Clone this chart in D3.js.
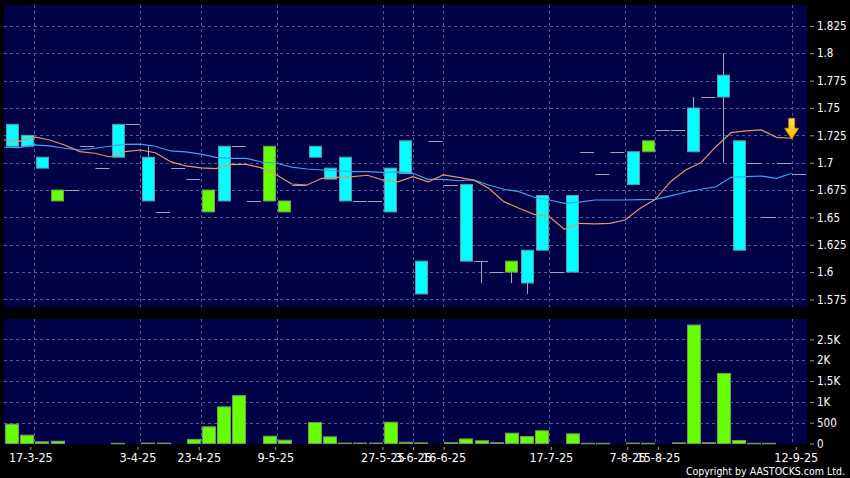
<!DOCTYPE html>
<html><head><meta charset="utf-8">
<script src="https://cdn.jsdelivr.net/npm/d3@7"></script>
<style>
html,body{margin:0;padding:0;background:#000;}
svg{display:block;}
text{font-family:"DejaVu Sans Condensed","DejaVu Sans",sans-serif;fill:#fff;}
</style></head><body>
<svg id="chart" width="850" height="478"></svg>
<script>
// ---- data (53 trading slots) ----
const openP  = [1.735,1.725,1.705,1.665,1.675,1.715,1.695,1.735,1.735,1.705,1.655,1.695,1.685,1.655,1.715,1.715,1.665,1.665,1.655,1.68,
                1.715,1.695,1.705,1.665,1.665,1.695,1.72,1.61,1.72,1.68,1.68,1.61,1.60,1.60,1.62,1.67,1.60,1.67,1.71,1.69,
                1.71,1.71,1.71,1.73,1.73,1.75,1.76,1.78,1.72,1.70,1.65,1.70,1.69];
const highP  = [1.735,1.725,1.705,1.675,1.675,1.715,1.695,1.735,1.735,1.715,1.655,1.695,1.685,1.675,1.715,1.715,1.665,1.715,1.665,1.68,
                1.715,1.695,1.705,1.665,1.665,1.695,1.72,1.61,1.72,1.68,1.68,1.61,1.60,1.61,1.62,1.67,1.60,1.67,1.71,1.69,
                1.71,1.71,1.72,1.73,1.73,1.76,1.76,1.80,1.72,1.70,1.65,1.70,1.69];
const lowP   = [1.715,1.715,1.695,1.665,1.675,1.715,1.695,1.705,1.735,1.665,1.655,1.695,1.685,1.655,1.665,1.715,1.665,1.665,1.655,1.68,
                1.705,1.685,1.665,1.665,1.665,1.655,1.69,1.58,1.72,1.68,1.61,1.59,1.60,1.59,1.58,1.62,1.60,1.60,1.71,1.69,
                1.71,1.68,1.71,1.73,1.73,1.71,1.76,1.70,1.62,1.70,1.65,1.70,1.69];
const closeP = [1.715,1.715,1.695,1.675,1.675,1.715,1.695,1.705,1.735,1.665,1.655,1.695,1.685,1.675,1.665,1.715,1.665,1.715,1.665,1.68,
                1.705,1.685,1.665,1.665,1.665,1.655,1.69,1.58,1.72,1.68,1.61,1.61,1.60,1.61,1.59,1.62,1.60,1.60,1.71,1.69,
                1.71,1.68,1.72,1.73,1.73,1.71,1.76,1.76,1.62,1.70,1.65,1.70,1.69];
const volume = [464,200,40,55,0,0,0,5,0,10,10,0,100,400,880,1150,0,175,80,0,
                505,160,10,10,10,512,30,15,0,20,110,65,20,248,168,305,0,232,5,5,
                0,10,5,0,15,2845,20,1683,72,5,5,0,0];
const maShort = [1.7207,1.7195,1.7235,1.7207,1.7162,1.7101,1.7086,1.7052,1.7101,1.7116,1.7091,1.7009,1.6970,1.6953,1.6945,1.6985,1.6985,1.6952,1.6888,1.6805,
                 1.6796,1.6857,1.6866,1.6872,1.6885,1.6842,1.6825,1.6872,1.6824,1.6888,1.6866,1.6842,1.6766,1.6644,1.6583,1.6528,1.6506,1.6391,1.6446,1.6440,
                 1.6446,1.6476,1.6583,1.6665,1.6826,1.6933,1.7000,1.7146,1.7274,1.7290,1.7299,1.7232,1.7223];
const maLong  = [1.7141,1.7137,1.7162,1.7153,1.7132,1.7116,1.7132,1.7150,1.7168,1.7170,1.7150,1.7107,1.7098,1.7078,1.7048,1.7040,1.7040,1.7006,1.6995,1.6960,
                 1.6942,1.6933,1.6924,1.6918,1.6918,1.6912,1.6915,1.6903,1.6848,1.6848,1.6835,1.6842,1.6796,1.6757,1.6735,1.6684,1.6659,1.6629,1.6640,1.6659,
                 1.6659,1.6659,1.6662,1.6665,1.6696,1.6730,1.6757,1.6780,1.6866,1.6872,1.6878,1.6857,1.6903];
const dateSlots  = [2,9,13,18,25,27,29,36,41,43,52];
const dateLabels = ["17-3-25","3-4-25","23-4-25","9-5-25","27-5-25","3-6-25","16-6-25","17-7-25","7-8-25","15-8-25","12-9-25"];
const priceTicks = [1.575,1.6,1.625,1.65,1.675,1.7,1.725,1.75,1.775,1.8,1.825];
const volTicks   = [0,500,1000,1500,2000,2500];
const volTickLabels = ["0","500","1K","1.5K","2K","2.5K"];

// ---- layout ----
const svg = d3.select("#chart");
const L = 4, R = 807;
const mainTop = 5, mainBot = 307, volTop = 319, volBot = 443.5;
const navy = "#000046", gridC = "#4f5b9c";

const n = closeP.length;
const x = d3.scaleBand().domain(d3.range(n)).range([L, 806.8]);
const bw = x.bandwidth();
const xl = d3.scaleLinear().domain([0, n - 1]).range([x(0) - 4.3, x(n - 1) + 4.1]);
const y = d3.scaleLinear().domain([1.5681, 1.8441]).range([mainBot, mainTop]);
const yV = d3.scaleLinear().domain([0, 2990]).range([volBot, volTop]);

svg.append("rect").attr("width", 850).attr("height", 478).attr("fill", "#000");
svg.append("rect").attr("x", L).attr("y", mainTop).attr("width", R - L).attr("height", mainBot - mainTop).attr("fill", navy);
svg.append("rect").attr("x", L).attr("y", volTop).attr("width", R - L).attr("height", volBot - volTop + 0.5).attr("fill", navy);

// grids
const g = svg.append("g").attr("stroke", gridC).attr("stroke-dasharray", "3,3").attr("stroke-width", 1);
priceTicks.forEach(v => g.append("line").attr("x1", L).attr("x2", R).attr("y1", Math.round(y(v)) + 0.5).attr("y2", Math.round(y(v)) + 0.5));
volTicks.slice(1).forEach(v => g.append("line").attr("x1", L).attr("x2", R).attr("y1", Math.round(yV(v)) + 0.5).attr("y2", Math.round(yV(v)) + 0.5));
dateSlots.forEach(i => {
  const xx = Math.round(x(i)) + 0.5;
  g.append("line").attr("x1", xx).attr("x2", xx).attr("y1", mainTop).attr("y2", mainBot);
  g.append("line").attr("x1", xx).attr("x2", xx).attr("y1", volTop).attr("y2", volBot);
});

// candles
const cg = svg.append("g");
const cx = i => x(i) + bw / 2;
d3.range(n).forEach(i => {
  const o = openP[i], c = closeP[i], h = highP[i], lo = lowP[i];
  const xc = Math.round(cx(i)) + 0.5;
  if (h > Math.max(o, c) || lo < Math.min(o, c)) {
    cg.append("line").attr("x1", xc).attr("x2", xc).attr("y1", y(h)).attr("y2", y(lo))
      .attr("stroke", "#a4a4b8").attr("stroke-width", 1);
  }
  if (o === c) {
    cg.append("line").attr("x1", cx(i) - 7).attr("x2", cx(i) + 7)
      .attr("y1", Math.round(y(c)) + 0.5).attr("y2", Math.round(y(c)) + 0.5)
      .attr("stroke", "#a4a4b8").attr("stroke-width", 1);
  } else {
    const up = c > o;
    cg.append("rect").attr("x", Math.round(cx(i) - 6) + 0.5).attr("width", 12)
      .attr("y", y(Math.max(o, c))).attr("height", y(Math.min(o, c)) - y(Math.max(o, c)))
      .attr("fill", up ? "#66ff00" : "#00ffff")
      .attr("stroke", up ? "#6f9a5a" : "#5f98a8").attr("stroke-width", 1);
  }
});

// moving averages
const lineGen = arr => d3.line().x((d, i) => x(i)).y(d => y(d))(arr);
svg.append("path").attr("d", lineGen(maLong)).attr("fill", "none").attr("stroke", "#3fa4ee").attr("stroke-width", 1.2);
svg.append("path").attr("d", lineGen(maShort)).attr("fill", "none").attr("stroke", "#e8946a").attr("stroke-width", 1.2);

// arrow
const defs = svg.append("defs");
const gr = defs.append("linearGradient").attr("id", "gold").attr("x1", 0).attr("x2", 0).attr("y1", 0).attr("y2", 1);
gr.append("stop").attr("offset", "0%").attr("stop-color", "#ffe83a");
gr.append("stop").attr("offset", "100%").attr("stop-color", "#ffb400");
const tx = x(n - 1), ty = y(maShort[n - 1]) + 1;
svg.append("path")
  .attr("d", `M${tx},${ty} L${tx - 7},${ty - 11} L${tx - 3},${ty - 11} L${tx - 3},${ty - 21} L${tx + 3},${ty - 21} L${tx + 3},${ty - 11} L${tx + 7},${ty - 11} Z`)
  .attr("fill", "url(#gold)").attr("stroke", "#c98a10").attr("stroke-width", 0.8);

// volume bars
svg.append("g").selectAll("rect").data(volume.map((v, i) => ({ v, i })).filter(d => d.v > 0)).join("rect")
  .attr("x", d => Math.round(cx(d.i) - 6.5) + 0.5).attr("width", 13)
  .attr("y", d => yV(d.v)).attr("height", d => Math.max(0.5, volBot - yV(d.v)))
  .attr("fill", "#66ff00").attr("stroke", "#6f9a5a").attr("stroke-width", 1);

// axes
const styleAxis = (sel, size) => {
  sel.select(".domain").remove();
  sel.selectAll(".tick line").attr("stroke", "#9a9a9a");
  sel.selectAll(".tick text").attr("fill", "#fff").attr("font-size", size)
     .attr("font-family", '"DejaVu Sans Condensed","DejaVu Sans",sans-serif');
};
svg.append("g").attr("transform", "translate(810,0)")
  .call(d3.axisRight(y).tickValues(priceTicks).tickSize(4).tickPadding(3).tickFormat(d => String(+d.toFixed(3))))
  .call(s => styleAxis(s, "11.5px"));
svg.append("g").attr("transform", "translate(810,0)")
  .call(d3.axisRight(yV).tickValues(volTicks).tickSize(4).tickPadding(3).tickFormat((d, i) => volTickLabels[i]))
  .call(s => styleAxis(s, "11.5px"));
svg.append("g").attr("transform", "translate(0,447)")
  .call(d3.axisBottom(xl).tickValues(dateSlots).tickSize(3).tickPadding(3).tickFormat((d, i) => dateLabels[i]))
  .call(s => styleAxis(s, "12.5px"));

svg.append("text").attr("x", 845).attr("y", 475).attr("text-anchor", "end")
  .attr("font-size", "10.5px").text("Copyright by AASTOCKS.com Ltd.");
</script>
</body></html>
